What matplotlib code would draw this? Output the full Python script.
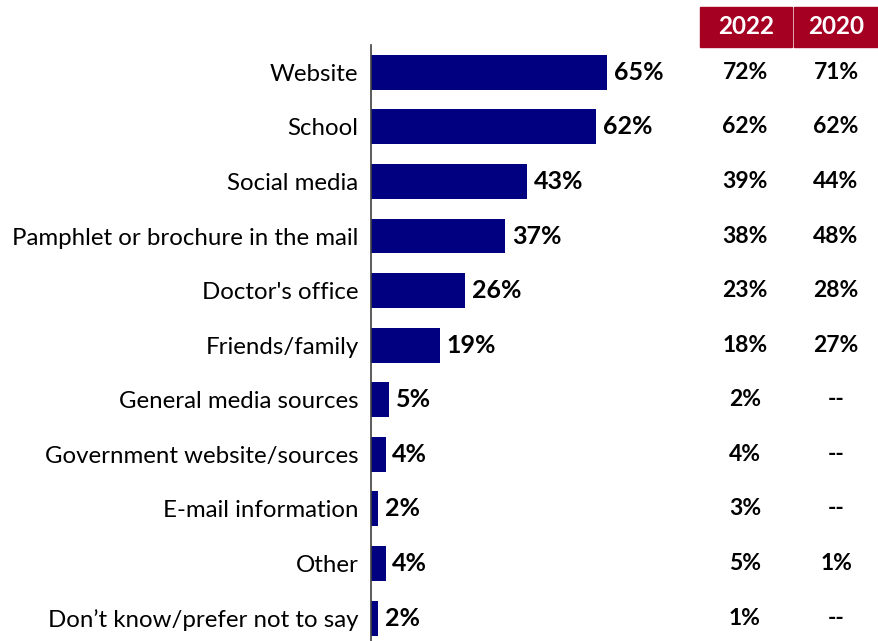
import matplotlib.pyplot as plt
from matplotlib.patches import Rectangle

plt.rcParams['font.family'] = ['Lato', 'DejaVu Sans']

categories = ["Website", "School", "Social media", "Pamphlet or brochure in the mail",
              "Doctor's office", "Friends/family", "General media sources",
              "Government website/sources", "E-mail information", "Other",
              "Don\u2019t know/prefer not to say"]
values = [65, 62, 43, 37, 26, 19, 5, 4, 2, 4, 2]
col_2022 = ["72%", "62%", "39%", "38%", "23%", "18%", "2%", "4%", "3%", "5%", "1%"]
col_2020 = ["71%", "62%", "44%", "48%", "28%", "27%", "--", "--", "--", "1%", "--"]
years = ["2022", "2020"]

W, H = 879, 641
fig = plt.figure(figsize=(W / 100, H / 100), dpi=100)
ax = fig.add_axes([371 / W, 0, (W - 371) / W, (641 - 45) / H])

y = list(range(len(categories)))
ax.barh(y, values, height=0.64, color='#000080')
ax.set_xlim(0, (W - 371) / 3.63)
ax.set_ylim(10.42, -0.5)

for yi, v in zip(y, values):
    ax.text(v + 1.9, yi, f"{v}%", va='center', ha='left', fontsize=18,
            fontweight='bold', color='black')

ax.set_yticks(y)
ax.set_yticklabels(categories, fontsize=17.3)
ax.tick_params(axis='y', length=0, pad=9)
ax.set_xticks([])
for s in ['top', 'right', 'bottom']:
    ax.spines[s].set_visible(False)
ax.spines['left'].set_color('#404040')
ax.spines['left'].set_linewidth(1.2)

# side columns for previous years
trans = ax.get_yaxis_transform()
col_x = [745, 836]
for cx, col in zip(col_x, [col_2022, col_2020]):
    xf = (cx - 371) / (W - 371)
    for yi, t in zip(y, col):
        ax.text(xf, yi, t, transform=trans,
                ha='center', va='center', fontsize=16.5, fontweight='bold')

# header boxes
boxes = [(700, 792), (794, 879)]
for (x0, x1), label in zip(boxes, years):
    fig.patches.append(Rectangle((x0 / W, 1 - 47 / H), (x1 - x0) / W, 40 / H,
                                 transform=fig.transFigure, color='#A50021'))
    fig.text((x0 + x1) / 2 / W, 1 - 27 / H, label, ha='center', va='center',
             color='white', fontsize=17.5, fontweight='bold')

fig.savefig('out.png', dpi=100)
